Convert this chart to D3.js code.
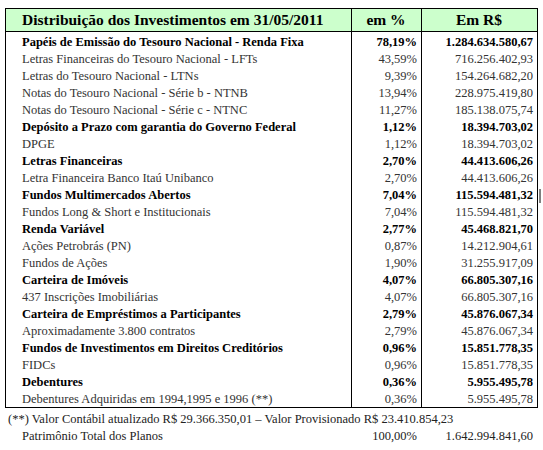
<!DOCTYPE html>
<html><head><meta charset="utf-8">
<script src="https://cdn.jsdelivr.net/npm/d3@7"></script>
<style>body{margin:0;background:#fff}svg{font-family:"Liberation Serif",serif}</style>
</head><body>
<script>
var labels = ["Papéis de Emissão do Tesouro Nacional - Renda Fixa","Letras Financeiras do Tesouro Nacional - LFTs","Letras do Tesouro Nacional - LTNs","Notas do Tesouro Nacional - Série b - NTNB","Notas do Tesouro Nacional - Série c - NTNC","Depósito a Prazo com garantia do Governo Federal","DPGE","Letras Financeiras","Letra Financeira Banco Itaú Unibanco","Fundos Multimercados Abertos","Fundos Long & Short e Institucionais","Renda Variável","Ações Petrobrás (PN)","Fundos de Ações","Carteira de Imóveis","437 Inscrições Imobiliárias","Carteira de Empréstimos a Participantes","Aproximadamente 3.800 contratos","Fundos de Investimentos em Direitos Creditórios","FIDCs","Debentures","Debentures Adquiridas em 1994,1995 e 1996 (**)"];
var pct = ["78,19%","43,59%","9,39%","13,94%","11,27%","1,12%","1,12%","2,70%","2,70%","7,04%","7,04%","2,77%","0,87%","1,90%","4,07%","4,07%","2,79%","2,79%","0,96%","0,96%","0,36%","0,36%"];
var reais = ["1.284.634.580,67","716.256.402,93","154.264.682,20","228.975.419,80","185.138.075,74","18.394.703,02","18.394.703,02","44.413.606,26","44.413.606,26","115.594.481,32","115.594.481,32","45.468.821,70","14.212.904,61","31.255.917,09","66.805.307,16","66.805.307,16","45.876.067,34","45.876.067,34","15.851.778,35","15.851.778,35","5.955.495,78","5.955.495,78"];
var bold = [1,0,0,0,0,1,0,1,0,1,0,1,0,0,1,0,1,0,1,0,1,0];
var headers = ["Distribuição dos Investimentos em 31/05/2011","em %","Em R$"];
var footnote = "(**) Valor Contábil atualizado R$ 29.366.350,01 – Valor Provisionado R$ 23.410.854,23";
var total = ["Patrimônio Total dos Planos","100,00%","1.642.994.841,60"];

var svg = d3.select("body").append("svg").attr("width",543).attr("height",450);
var L=5.5, R=537.5, C1=351.5, C2=421.5, HT=8.5, HB=31.5, TB=407.5;
var y = d3.scaleBand().domain(d3.range(labels.length)).range([HB+2, TB-1]);

svg.append("rect").attr("x",L).attr("y",HT).attr("width",R-L).attr("height",HB-HT)
  .attr("fill","#ccffcc").attr("stroke","#000");
svg.append("rect").attr("x",L).attr("y",HT).attr("width",R-L).attr("height",TB-HT)
  .attr("fill","none").attr("stroke","#000");
[C1,C2].forEach(function(x){
  svg.append("line").attr("x1",x).attr("x2",x).attr("y1",HT).attr("y2",TB).attr("stroke","#000");
});
svg.append("line").attr("x1",540).attr("x2",540).attr("y1",189).attr("y2",203).attr("stroke","#000");

var hx=[[22,"start"],[386,"middle"],[479,"middle"]];
headers.forEach(function(h,i){
  svg.append("text").attr("x",hx[i][0]).attr("y",25).attr("text-anchor",hx[i][1])
    .attr("font-size",15.5).attr("font-weight","bold").text(h);
});

var rows = svg.selectAll("g.row").data(labels).enter().append("g")
  .attr("transform",function(d,i){return "translate(0,"+(y(i)+y.bandwidth()/2+4.5)+")";})
  .attr("font-size",12.5)
  .attr("font-weight",function(d,i){return bold[i]?"bold":"normal";})
  .attr("fill",function(d,i){return bold[i]?"#000":"#333";});
rows.append("text").attr("x",22).text(function(d){return d;});
rows.append("text").attr("x",417).attr("text-anchor","end").text(function(d,i){return pct[i];});
rows.append("text").attr("x",533).attr("text-anchor","end").text(function(d,i){return reais[i];});

svg.append("text").attr("x",8).attr("y",423).attr("font-size",12.5).attr("fill","#222").text(footnote);
var tg = svg.append("g").attr("font-size",12.5).attr("fill","#222");
tg.append("text").attr("x",22).attr("y",440).text(total[0]);
tg.append("text").attr("x",417).attr("y",440).attr("text-anchor","end").text(total[1]);
tg.append("text").attr("x",533).attr("y",440).attr("text-anchor","end").text(total[2]);
</script>
</body></html>
